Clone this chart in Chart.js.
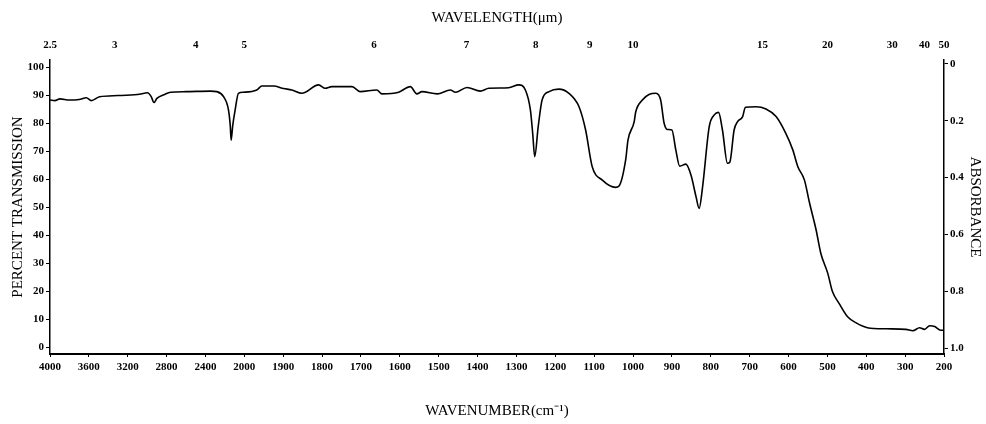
<!DOCTYPE html>
<html><head><meta charset="utf-8">
<script src="https://cdn.jsdelivr.net/npm/chart.js@4.4.1/dist/chart.umd.min.js"></script>
<style>html,body{margin:0;padding:0;background:#fff}#wrap{width:986px;height:424px}</style>
</head><body><div id="wrap"><canvas id="c"></canvas></div>
<script>
const wavenumbers = [4000,3950,3898,3800,3700,3626,3575,3490,3300,3100,3031,2997,2960,2929,2900,2827,2758,2600,2350,2283,2214,2163,2145,2136,2120,2095,2061,2010,1968,1955,1925,1899,1878,1852,1809,1792,1775,1723,1702,1659,1646,1603,1573,1556,1543,1504,1470,1457,1427,1393,1371,1320,1294,1277,1264,1258,1253,1244,1234,1216,1191,1165,1139,1122,1105,1079,1045,1036,1019,1013,997,993,976,959,941,929,920,912,900,890,880,864,851,838,830,821,804,791,780,770,757,751,740,731,718,711,684,658,632,607,589,576,559,546,529,517,499,487,470,448,427,397,349,298,280,263,250,237,224,211,200];
const transmission = [88.2,88.0,88.6,88.2,88.4,89.0,88.0,89.4,89.8,90.2,90.6,90.8,89.5,87.3,88.8,90.1,91.0,91.2,91.4,91.2,89.4,84.6,79,73.9,79,84.6,90.6,91.0,91.8,93.2,93.2,92.3,91.8,90.6,93.6,92.4,93.0,93.0,91.2,91.8,90.4,91.0,93.0,90.4,91.2,90.4,91.8,91.0,92.7,91.4,92.4,92.6,93.6,91.8,84.6,76,68.0,78.7,88.2,91.2,92.1,90.6,85.8,77.5,64.4,59.6,57.0,57.5,66.8,73.9,80.5,84.0,88.2,90.2,90.6,88.2,79.9,77.7,77.5,70.4,64.6,65.3,61.4,53.7,49.5,57.3,78.7,82.9,83.8,77.5,65.6,66.0,77.5,80.5,82.3,85.6,85.8,85.0,82.3,76.3,70.4,64.4,59.6,51.5,41.8,33.5,26.3,19.8,15.6,10.8,8.7,6.9,6.5,6.3,5.8,6.9,6.3,7.6,7.3,6.1,6.0];
const wavenumberTicks = [4000,3600,3200,2800,2400,2000,1900,1800,1700,1600,1500,1400,1300,1200,1100,1000,900,800,700,600,500,400,300,200];
const wavelengthTicks = ["2.5","3","4","5","6","7","8","9","10","15","20","30","40","50"];
const percentTicks = [0,10,20,30,40,50,60,70,80,90,100];
const absorbanceTicks = [0,0.2,0.4,0.6,0.8,1.0];
const absorbanceLabels = ["0","0.2","0.4","0.6","0.8","1.0"];

// instrument chart scale: 4000-2000 compressed 4x relative to 2000-200
function toAxis(nu){ return nu >= 2000 ? (4000 - nu) / 4 : 500 + (2000 - nu); }

const points = wavenumbers.map((w, i) => ({x: toAxis(w), y: transmission[i]}));
const tickFont = {family: 'Liberation Serif', size: 11, weight: 'bold'};
const titleFont = {family: 'Liberation Serif', size: 15};

new Chart(document.getElementById('c'), {
  type: 'line',
  data: {datasets: [{data: points, borderColor: '#000', borderWidth: 1.6, pointRadius: 0, cubicInterpolationMode: 'monotone', fill: false}]},
  options: {
    responsive: true, maintainAspectRatio: false, animation: false,
    layout: {padding: 0},
    plugins: {legend: {display: false}, tooltip: {enabled: false}},
    scales: {
      x: {
        type: 'linear', position: 'bottom', min: 0, max: 2300,
        afterBuildTicks: s => { s.ticks = wavenumberTicks.map(v => ({value: toAxis(v)})); },
        afterFit: s => { s.height = 70; },
        ticks: {color: '#000', font: tickFont, padding: 4, maxRotation: 0, autoSkip: false, callback: (v, i) => String(wavenumberTicks[i])},
        grid: {drawOnChartArea: false, color: '#000', tickLength: 3},
        border: {display: true, color: '#000', width: 2},
        title: {display: true, text: 'WAVENUMBER(cm⁻¹)', color: '#000', font: titleFont, padding: {bottom: 4}}
      },
      x2: {
        type: 'linear', position: 'top', min: 0, max: 2300,
        afterBuildTicks: s => { s.ticks = wavelengthTicks.map(l => ({value: toAxis(10000 / parseFloat(l))})); },
        afterFit: s => { s.height = 60; },
        ticks: {color: '#000', font: tickFont, padding: 8, maxRotation: 0, autoSkip: false, callback: (v, i) => wavelengthTicks[i]},
        grid: {display: false, drawTicks: false},
        border: {display: false},
        title: {display: true, text: 'WAVELENGTH(μm)', color: '#000', font: titleFont, padding: {top: 9}}
      },
      y: {
        type: 'linear', position: 'left', min: -2.5, max: 102.5,
        afterBuildTicks: s => { s.ticks = percentTicks.map(v => ({value: v})); },
        afterFit: s => { s.width = 50; },
        ticks: {color: '#000', font: tickFont, padding: 2, autoSkip: false},
        grid: {drawOnChartArea: false, color: '#000', tickLength: 4},
        border: {display: true, color: '#000', width: 1.5},
        title: {display: true, text: 'PERCENT TRANSMISSION', color: '#000', font: titleFont, padding: {top: 9}}
      },
      y2: {
        type: 'linear', position: 'right', min: -0.014, max: 1.021, reverse: true,
        afterBuildTicks: s => { s.ticks = absorbanceTicks.map(v => ({value: v})); },
        afterFit: s => { s.width = 42; },
        ticks: {color: '#000', font: tickFont, padding: 2, autoSkip: false, callback: (v, i) => absorbanceLabels[i]},
        grid: {drawOnChartArea: false, color: '#000', tickLength: 4},
        border: {display: true, color: '#000', width: 1.5},
        title: {display: true, text: 'ABSORBANCE', color: '#000', font: titleFont, padding: {top: 2}}
      }
    }
  }
});
</script>
</body></html>
